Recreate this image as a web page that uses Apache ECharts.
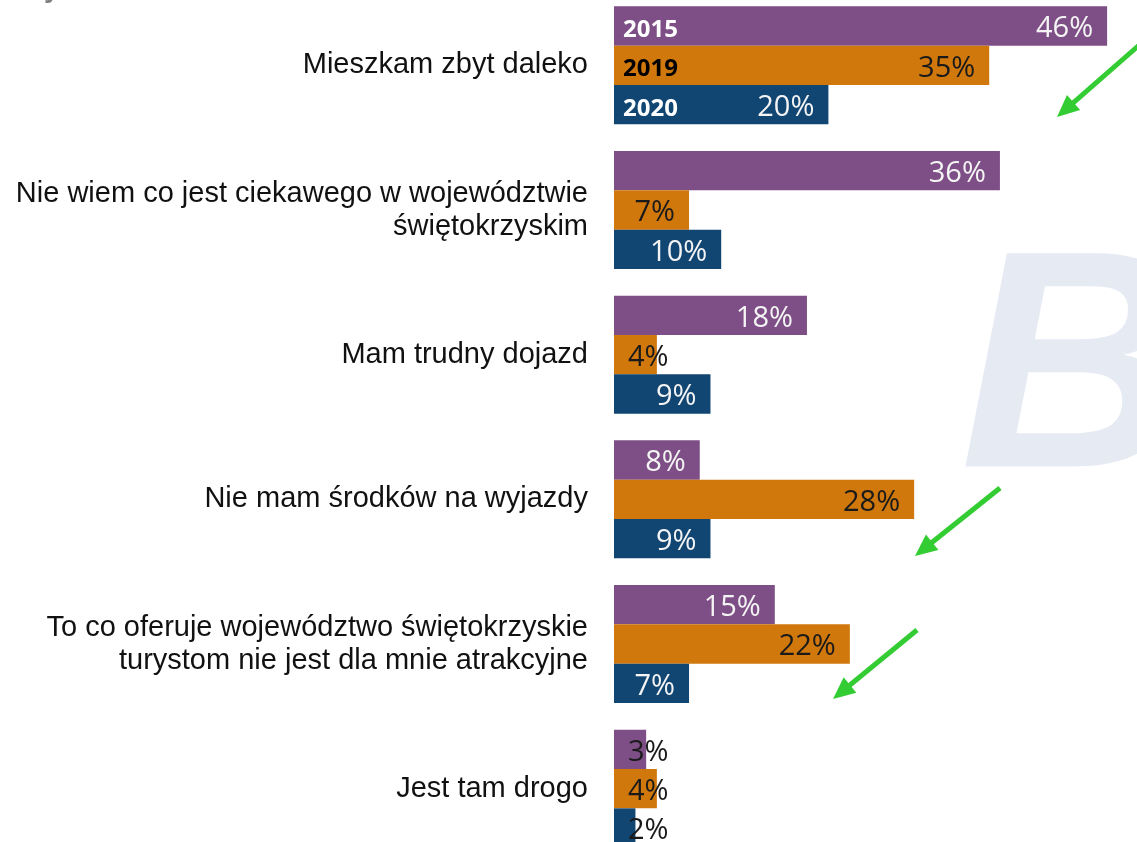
<!DOCTYPE html>
<html>
<head>
<meta charset="utf-8">
<script src="https://cdn.jsdelivr.net/npm/echarts@6/dist/echarts.min.js"></script>
<style>
  html, body { margin: 0; padding: 0; background: #fff; }
  #chart { width: 1137px; height: 842px; }
</style>
</head>
<body>
<div id="chart"></div>
<script>
const categories = [
  'Mieszkam zbyt daleko',
  'Nie wiem co jest ciekawego w województwie\nświętokrzyskim',
  'Mam trudny dojazd',
  'Nie mam środków na wyjazdy',
  'To co oferuje województwo świętokrzyskie\nturystom nie jest dla mnie atrakcyjne',
  'Jest tam drogo'
]
const years = ['2015', '2019', '2020']
const values2015 = [46, 36, 18, 8, 15, 3]
const values2019 = [35, 7, 4, 28, 22, 4]
const values2020 = [20, 10, 9, 9, 7, 2]

const colors = ['#7e4e86', '#d1780d', '#114572']
const valueText = ['#f4f4f4', '#1a1a1a', '#f4f4f4']
const nameText = ['#ffffff', '#000000', '#ffffff']

const chart = echarts.init(document.getElementById('chart'))

function valueSeries(name, data, i) {
  return {
    name,
    type: 'bar',
    yAxisIndex: 0,
    barGap: '0%',
    barCategoryGap: '18.4%',
    itemStyle: { color: colors[i] },
    silent: true,
    data: data.map(v => {
      const small = v < 5
      return {
        value: v,
        label: {
          show: true,
          position: small ? 'insideLeft' : 'insideRight',
          distance: 14,
          formatter: '{c}%',
          fontFamily: 'Open Sans',
          fontSize: 29,
          color: small ? '#1a1a1a' : valueText[i],
          offset: [0, 3]
        }
      }
    })
  }
}

function nameSeries(name, data, i) {
  return {
    name: name + '-label',
    type: 'bar',
    yAxisIndex: 1,
    barGap: '0%',
    barCategoryGap: '18.4%',
    itemStyle: { color: 'rgba(0,0,0,0)' },
    silent: true,
    z: 5,
    data: data.map((v, k) => ({
      value: v,
      label: {
        show: k === 0,
        position: 'insideLeft',
        distance: 9,
        formatter: name,
        fontFamily: 'Open Sans',
        fontWeight: 'bold',
        fontSize: 24,
        color: nameText[i],
        offset: [0, 4]
      }
    }))
  }
}

function arrow(x1, y1, x2, y2) {
  const dx = x2 - x1, dy = y2 - y1
  const len = Math.sqrt(dx * dx + dy * dy)
  const ux = dx / len, uy = dy / len
  const nx = -uy, ny = ux
  const head = 22, half = 10
  const bx = x2 - ux * head, by = y2 - uy * head
  return [
    {
      type: 'line',
      shape: { x1, y1, x2: bx + ux * 2, y2: by + uy * 2 },
      style: { stroke: '#33cc33', lineWidth: 5 },
      z: 10
    },
    {
      type: 'polygon',
      shape: { points: [[x2, y2], [bx + nx * half, by + ny * half], [bx - nx * half, by - ny * half]] },
      style: { fill: '#33cc33' },
      z: 10
    }
  ]
}

chart.setOption({
  animation: false,
  grid: { left: 614, top: -7, right: -13, bottom: -19, outerBoundsMode: 'none', containLabel: false },
  xAxis: { type: 'value', min: 0, max: 50, show: false },
  yAxis: [
    {
      type: 'category',
      data: categories,
      inverse: true,
      axisLine: { show: false },
      axisTick: { show: false },
      axisLabel: {
        margin: 26,
        fontFamily: 'Liberation Sans',
        fontSize: 29,
        lineHeight: 33,
        color: '#111',
        align: 'right',
        padding: [6, 0, 0, 0]
      }
    },
    { type: 'category', data: categories, inverse: true, show: false }
  ],
  graphic: [
    {
      type: 'text',
      z: -10,
      style: {
        x: 960,
        y: 226,
        text: 'B',
        fontFamily: 'Liberation Sans',
        fontWeight: 'bold',
        fontStyle: 'italic',
        fontSize: 310,
        fill: '#e6eaf3'
      }
    },
    {
      type: 'text',
      style: {
        x: 44, y: -25, text: 'y',
        fontFamily: 'Liberation Sans', fontWeight: 'bold', fontSize: 28,
        fill: '#7f7f7f'
      }
    },
    ...arrow(1145, 40, 1057, 117),
    ...arrow(1000, 488, 915, 556),
    ...arrow(917, 630, 833, 699)
  ],
  series: [
    valueSeries(years[0], values2015, 0),
    valueSeries(years[1], values2019, 1),
    valueSeries(years[2], values2020, 2),
    nameSeries(years[0], values2015, 0),
    nameSeries(years[1], values2019, 1),
    nameSeries(years[2], values2020, 2)
  ]
})
</script>
</body>
</html>
